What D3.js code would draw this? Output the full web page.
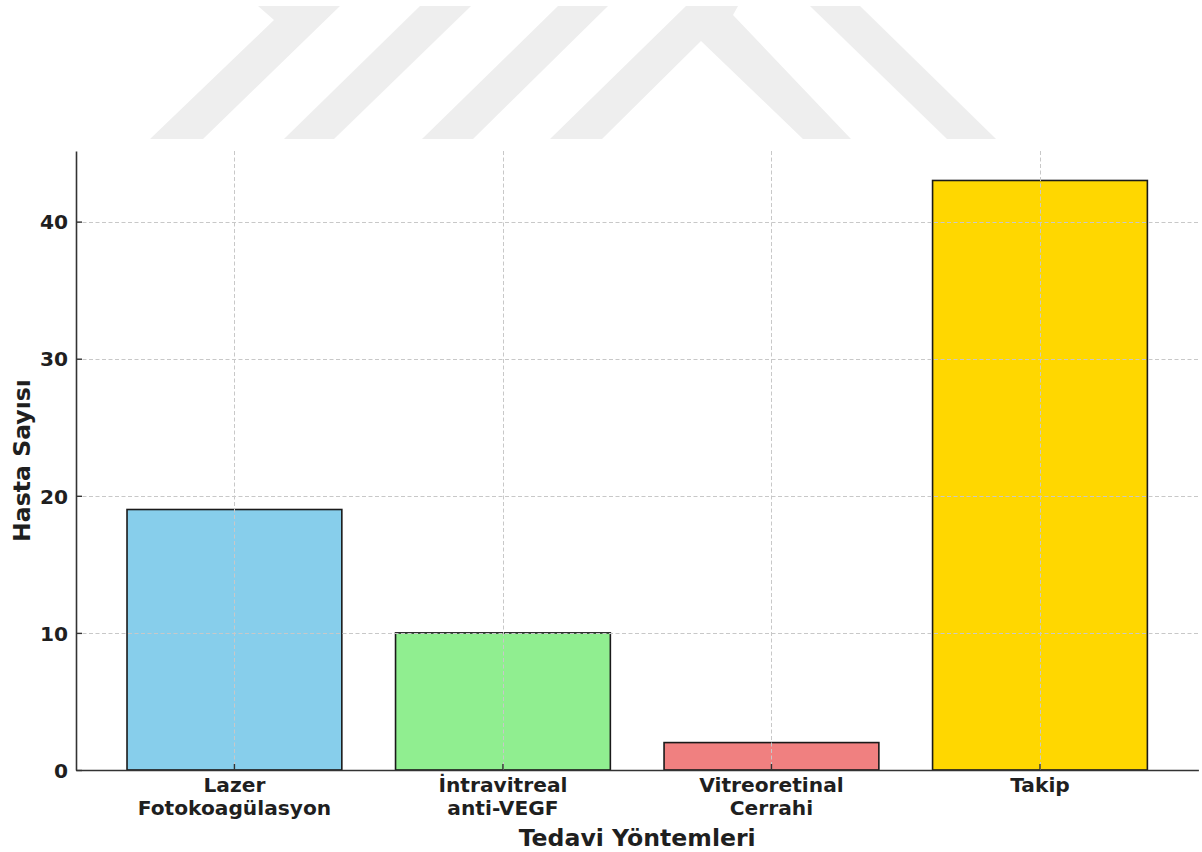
<!DOCTYPE html>
<html>
<head>
<meta charset="utf-8">
<script src="https://cdn.jsdelivr.net/npm/d3@7"></script>
<style>
  html, body { margin: 0; padding: 0; background: #ffffff; }
  svg { display: block; }
  text { font-family: "DejaVu Sans", sans-serif; font-weight: bold; fill: #1f1f1f; }
</style>
</head>
<body>
<svg id="chart" width="1202" height="852"></svg>
<script>
// Treatment methods and patient counts
const categories = ["Lazer\nFotokoagülasyon", "İntravitreal\nanti-VEGF", "Vitreoretinal\nCerrahi", "Takip"];
const patientCounts = [19, 10, 2, 43];
const barColors = ["#87CEEB", "#90EE90", "#F08080", "#FFD700"];
const yTicks = [0, 10, 20, 30, 40];
const xTitle = "Tedavi Yöntemleri";
const yTitle = "Hasta Sayısı";

// Faint logo shapes in the page header
const backdropShapes = [
  [[258, 6], [340, 6], [203, 139], [150, 139], [274, 20]],
  [[420, 6], [471, 6], [334, 139], [284, 139]],
  [[558, 6], [608, 6], [473, 139], [422, 139]],
  [[686, 6], [738, 6], [733, 15], [851, 139], [803, 139], [701, 41], [602, 139], [550, 139]],
  [[810, 6], [860, 6], [996, 139], [947, 139]]
];

const svg = d3.select("#chart");
const margin = { left: 76, right: 1198.4, top: 151, bottom: 770 };

svg.append("g")
  .selectAll("polygon")
  .data(backdropShapes)
  .join("polygon")
  .attr("points", d => d.map(p => p.join(",")).join(" "))
  .attr("fill", "#eeeeee");

const x = d3.scaleBand()
  .domain(categories)
  .range([margin.left, margin.right])
  .paddingInner(0.2)
  .paddingOuter(0.19);

const yMax = d3.max(patientCounts) * 1.05;
const y = d3.scaleLinear()
  .domain([0, yMax])
  .range([margin.bottom, margin.top]);

// Bars
svg.append("g")
  .selectAll("rect")
  .data(patientCounts)
  .join("rect")
  .attr("x", (d, i) => x(categories[i]))
  .attr("y", d => y(d))
  .attr("width", x.bandwidth())
  .attr("height", d => y(0) - y(d))
  .attr("fill", (d, i) => barColors[i])
  .attr("stroke", "#1a1a1a")
  .attr("stroke-width", 1.6);

// Dashed grid drawn over the bars
const grid = svg.append("g")
  .attr("stroke", "#c8c8c8")
  .attr("stroke-width", 1)
  .attr("stroke-dasharray", "4,2.5")
  .attr("fill", "none");

grid.selectAll("line.h")
  .data(yTicks.filter(t => t > 0))
  .join("line")
  .attr("class", "h")
  .attr("x1", margin.left)
  .attr("x2", margin.right)
  .attr("y1", d => Math.round(y(d)) + 0.5)
  .attr("y2", d => Math.round(y(d)) + 0.5);

grid.selectAll("line.v")
  .data(categories)
  .join("line")
  .attr("class", "v")
  .attr("x1", d => Math.round(x(d) + x.bandwidth() / 2) + 0.5)
  .attr("x2", d => Math.round(x(d) + x.bandwidth() / 2) + 0.5)
  .attr("y1", margin.top)
  .attr("y2", margin.bottom);

// Y axis
const yAxis = svg.append("g")
  .attr("transform", `translate(${margin.left},0)`)
  .call(d3.axisLeft(y).tickValues(yTicks).tickSizeInner(-6).tickSizeOuter(0).tickPadding(8));
yAxis.select(".domain").attr("stroke", "#333333").attr("stroke-width", 1.6);
yAxis.selectAll(".tick line").attr("stroke", "#333333").attr("stroke-width", 1.4);
yAxis.selectAll(".tick text")
  .attr("font-size", "20.2px")
  .attr("font-family", "DejaVu Sans, sans-serif")
  .attr("font-weight", "bold")
  .attr("fill", "#1f1f1f")
  .attr("dy", "0.36em");

// X axis
const xAxis = svg.append("g")
  .attr("transform", `translate(0,${margin.bottom})`)
  .call(d3.axisBottom(x).tickSizeInner(-6).tickSizeOuter(0).tickFormat(""));
xAxis.select(".domain").attr("stroke", "#333333").attr("stroke-width", 1.6);
xAxis.selectAll(".tick line").attr("stroke", "#333333").attr("stroke-width", 1.4);
xAxis.selectAll(".tick").each(function(d) {
  const lines = d.split("\n");
  const t = d3.select(this).append("text")
    .attr("text-anchor", "middle")
    .attr("font-size", "20.2px")
    .attr("y", 22);
  lines.forEach((ln, i) => {
    t.append("tspan").attr("x", 0).attr("dy", i === 0 ? 0 : 23).text(ln);
  });
});

// Axis titles
svg.append("text")
  .attr("x", (margin.left + margin.right) / 2)
  .attr("y", 846)
  .attr("text-anchor", "middle")
  .attr("font-size", "23.6px")
  .text(xTitle);

svg.append("text")
  .attr("transform", `translate(30,${(margin.top + margin.bottom) / 2}) rotate(-90)`)
  .attr("text-anchor", "middle")
  .attr("font-size", "23.6px")
  .text(yTitle);
</script>
</body>
</html>
